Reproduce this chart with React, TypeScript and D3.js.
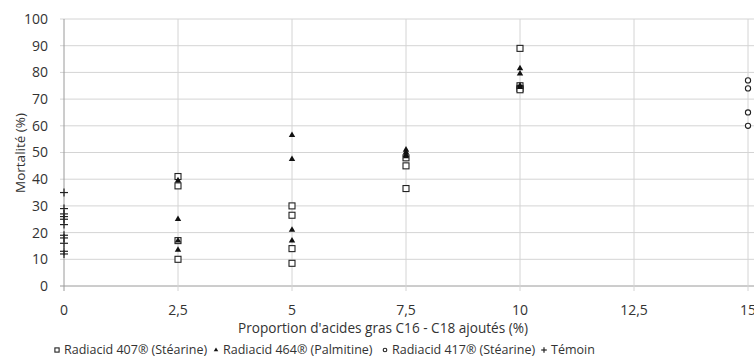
import React from "react";
import * as d3 from "d3";

const xTicks = [0, 2.5, 5, 7.5, 10, 12.5, 15];
const yTicks = [0, 10, 20, 30, 40, 50, 60, 70, 80, 90, 100];

// [x, mortality]
const radiacid407: [number, number][] = [
  [2.5, 41], [2.5, 37.5], [2.5, 17], [2.5, 10],
  [5, 30], [5, 26.5], [5, 14], [5, 8.5],
  [7.5, 48], [7.5, 45], [7.5, 36.5],
  [10, 89], [10, 75], [10, 74], [10, 73.5],
];
const radiacid464: [number, number][] = [
  [2.5, 39.5], [2.5, 25], [2.5, 17], [2.5, 13.5],
  [5, 56.5], [5, 47.5], [5, 21], [5, 17],
  [7.5, 51], [7.5, 50], [7.5, 49], [7.5, 48.5],
  [10, 81.5], [10, 79.5], [10, 75], [10, 74.5],
];
const radiacid417: [number, number][] = [
  [15, 77], [15, 74], [15, 65], [15, 60],
];
const temoin: [number, number][] = [
  [0, 35], [0, 29], [0, 27], [0, 26], [0, 25], [0, 23],
  [0, 19], [0, 18], [0, 16], [0, 13], [0, 12],
];

const legendItems = [
  { key: "sq", label: "Radiacid 407® (Stéarine)" },
  { key: "tri", label: "Radiacid 464® (Palmitine)" },
  { key: "circ", label: "Radiacid 417® (Stéarine)" },
  { key: "plus", label: "Témoin" },
];

const W = 754;
const H = 364;
const FONT = "'Open Sans', Arial, sans-serif";
const TXT = "#333";

const x = d3.scaleLinear().domain([0, 15]).range([64, 748]);
const y = d3.scaleLinear().domain([0, 100]).range([286, 19]);
const fmt = (v: number) => String(v).replace(".", ",");

const triPath = d3.symbol().type(d3.symbolTriangle).size(18)() as string;

function Marker({ kind, cx, cy, s = 1 }: { kind: string; cx: number; cy: number; s?: number }) {
  if (kind === "sq")
    return <rect x={cx - 3 * s} y={cy - 3 * s} width={6 * s} height={6 * s} fill="white" stroke="#222" strokeWidth={1.1} />;
  if (kind === "tri")
    return <path d={triPath} transform={`translate(${cx},${cy}) scale(${s})`} fill="#111" />;
  if (kind === "circ")
    return <circle cx={cx} cy={cy} r={2.6 * s} fill="white" stroke="#222" strokeWidth={1.1} />;
  return (
    <g stroke="#222" strokeWidth={1.2}>
      <line x1={cx - 4 * s} x2={cx + 4 * s} y1={cy} y2={cy} />
      <line x1={cx} x2={cx} y1={cy - 4 * s} y2={cy + 4 * s} />
    </g>
  );
}

export default function App() {
  const legendX = [57, 216, 385, 544];
  return (
    <svg width={W} height={H} style={{ position: "absolute", left: 0, top: 0, background: "white" }} fontFamily={FONT}>
      <rect width={W} height={H} fill="white" />
      {/* horizontal grid */}
      {yTicks.map((t) => (
        <line key={"h" + t} x1={x(0) - 4} x2={W} y1={y(t)} y2={y(t)} stroke={t === 0 ? "#9a9a9a" : "#d4d4d4"} strokeWidth={1} />
      ))}
      {/* vertical grid */}
      {xTicks.map((t) => (
        <line key={"v" + t} x1={x(t)} x2={x(t)} y1={y(100)} y2={y(0) + 5} stroke={t === 0 ? "#9a9a9a" : "#d4d4d4"} strokeWidth={1} />
      ))}
      {/* y tick labels */}
      {yTicks.map((t) => (
        <text key={"yl" + t} x={48} y={y(t)} dy="0.35em" textAnchor="end" fontSize={14} fill={TXT}>
          {t}
        </text>
      ))}
      {/* x tick labels */}
      {xTicks.map((t) => (
        <text key={"xl" + t} x={x(t)} y={310} dy="0.35em" textAnchor="middle" fontSize={14} fill={TXT}>
          {fmt(t)}
        </text>
      ))}
      <text x={383} y={328} dy="0.35em" textAnchor="middle" fontSize={13.6} fill={TXT}>
        Proportion d'acides gras C16 - C18  ajoutés (%)
      </text>
      <text transform={`translate(20,153) rotate(-90)`} dy="0.35em" textAnchor="middle" fontSize={13.5} fill={TXT}>
        Mortalité (%)
      </text>
      {/* points */}
      {temoin.map(([a, b], i) => <Marker key={"p" + i} kind="plus" cx={x(a)} cy={y(b)} />)}
      {radiacid407.map(([a, b], i) => <Marker key={"s" + i} kind="sq" cx={x(a)} cy={y(b)} />)}
      {radiacid464.map(([a, b], i) => <Marker key={"t" + i} kind="tri" cx={x(a)} cy={y(b)} />)}
      {radiacid417.map(([a, b], i) => <Marker key={"c" + i} kind="circ" cx={x(a)} cy={y(b)} />)}
      {/* legend */}
      {legendItems.map((it, i) => (
        <g key={it.key}>
          <Marker kind={it.key} cx={legendX[i]} cy={350} s={0.7} />
          <text x={legendX[i] + 7} y={350} dy="0.35em" fontSize={12.5} fill={TXT}>
            {it.label}
          </text>
        </g>
      ))}
    </svg>
  );
}
